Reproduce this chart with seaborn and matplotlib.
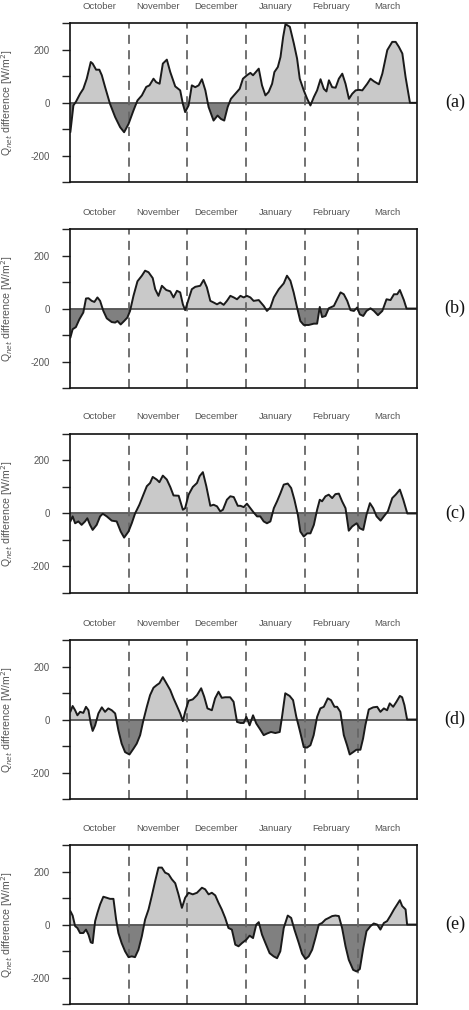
import matplotlib
matplotlib.use("Agg")
import matplotlib.pyplot as plt
import numpy as np
import seaborn as sns
from matplotlib.ticker import FixedLocator

# days since 1 October, values in W/m2
a_day = [0, 1.6, 3.0, 5.1, 6.8, 8.6, 10.7, 11.7, 13.5, 15.2,
         16.5, 18.2, 20.8, 23.5, 26.1, 28.2, 30.5, 33.1, 35.2, 37.5,
         39.8, 41.5, 43.6, 45.0, 46.8, 48.5, 50.6, 52.4, 55.0, 57.6,
         59.0, 60.2, 62.0, 63.7, 65.5, 67.3, 69.0, 70.8, 72.5, 75.1,
         77.2, 79.0, 80.7, 82.5, 84.2, 86.5, 88.8, 90.5, 92.6, 94.4,
         95.8, 98.8, 100.5, 102.3, 104.0, 105.8, 107.0, 108.8, 110.2, 111.6,
         112.8, 115.1, 117.2, 118.9, 120.3, 122.4, 124.2, 125.9, 127.7, 129.4,
         131.2, 132.9, 134.3, 135.6, 137.3, 139.1, 140.8, 142.6, 144.3, 146.1,
         147.8, 149.6, 151.3, 153.1, 155.7, 157.4, 159.2, 161.8, 163.6, 166.2,
         168.8, 170.6, 172.3, 174.1, 175.8, 178.1, 182]
a_val = [-111, -10, 5, 34, 53, 91, 154, 148, 125, 125,
         104, 60, -4, -54, -92, -111, -80, -29, 9, 28,
         60, 66, 91, 78, 72, 148, 163, 116, 62, 47,
         -4, -35, -10, 66, 59, 66, 89, 47, -16, -67,
         -48, -61, -67, -16, 15, 34, 53, 91, 104, 113,
         104, 129, 66, 28, 41, 72, 116, 135, 173, 249,
         297, 287, 224, 167, 91, 47, 15, -10, 22, 47,
         89, 53, 43, 85, 59, 57, 91, 110, 72, 15,
         34, 47, 49, 47, 72, 91, 81, 70, 110, 199,
         230, 230, 211, 186, 97, 0, 0]

b_day = [0, 1.2, 2.9, 4.7, 6.8, 8.2, 9.5, 11.2, 12.6, 14.2,
         15.6, 17.3, 19.1, 21.7, 23.5, 24.7, 26.4, 28.2, 29.9, 31.3,
         33.1, 35.2, 37.5, 39.2, 41.0, 43.2, 44.5, 46.2, 48.0, 50.3,
         52.4, 54.1, 55.9, 57.6, 59.0, 60.2, 62.0, 63.7, 65.5, 68.1,
         69.9, 71.6, 73.4, 75.1, 76.9, 78.6, 80.4, 82.1, 83.9, 85.7,
         87.4, 89.2, 90.9, 92.6, 94.4, 96.1, 98.8, 101.4, 103.1, 104.9,
         106.7, 109.3, 111.9, 113.6, 115.4, 117.1, 118.9, 120.6, 122.4, 125.0,
         127.7, 129.4, 130.8, 132.0, 133.8, 135.5, 138.2, 139.9, 141.7, 143.4,
         145.2, 146.9, 148.7, 150.4, 151.8, 153.6, 155.3, 157.4, 159.2, 161.3,
         163.6, 165.8, 167.9, 169.7, 171.4, 172.8, 174.9, 176.3, 182]
b_val = [-110, -78, -70, -41, -15, 38, 39, 29, 25, 42,
         29, -9, -37, -51, -53, -47, -60, -47, -34, -9,
         48, 103, 124, 143, 137, 115, 73, 48, 86, 70,
         65, 42, 67, 61, 16, -6, 35, 73, 82, 86,
         108, 80, 29, 23, 16, 23, 14, 29, 48, 42,
         35, 48, 42, 48, 42, 29, 32, 10, -9, 4,
         42, 73, 95, 124, 105, 61, 4, -47, -62, -62,
         -57, -57, 6, -32, -28, 1, 10, 35, 61, 54,
         29, -6, -9, 4, -22, -28, -9, 1, -9, -25,
         -9, 35, 32, 54, 54, 70, 32, 0, 0]

c_day = [0, 1.2, 2.5, 4.2, 5.9, 7.7, 8.9, 10.3, 11.7, 13.8,
         15.6, 17.0, 19.1, 21.7, 24.3, 26.4, 28.2, 30.5, 32.2, 34.0,
         36.2, 38.3, 40.1, 41.8, 43.2, 45.3, 46.7, 48.5, 50.6, 52.4,
         54.1, 56.8, 59.0, 60.2, 62.0, 64.2, 66.4, 67.8, 69.5, 71.3,
         73.4, 75.1, 76.9, 78.6, 80.0, 82.1, 83.9, 85.7, 87.8, 89.2,
         90.9, 92.6, 94.4, 96.1, 97.9, 99.6, 101.4, 103.1, 104.9, 106.7,
         108.4, 110.2, 111.9, 114.0, 115.8, 117.5, 119.3, 120.6, 122.4, 124.2,
         125.9, 127.7, 129.4, 130.8, 132.0, 133.8, 135.5, 137.3, 139.0, 140.8,
         142.5, 144.3, 146.0, 147.8, 150.1, 151.8, 153.6, 155.3, 157.1, 158.8,
         160.6, 162.7, 164.4, 166.5, 168.8, 170.6, 172.8, 174.6, 176.7, 182]
c_val = [-30, -11, -37, -30, -43, -30, -18, -43, -62, -43,
         -11, -1, -11, -27, -30, -68, -91, -68, -37, 1,
         33, 71, 103, 115, 138, 128, 118, 143, 128, 100,
         68, 67, 14, 20, 71, 100, 115, 141, 156, 103,
         29, 33, 27, 8, 14, 52, 65, 62, 29, 29,
         24, 37, 20, 4, -11, -11, -30, -37, -30, 20,
         46, 77, 109, 113, 96, 52, -5, -68, -87, -75,
         -75, -43, 14, 52, 46, 65, 71, 58, 73, 75,
         46, 20, -65, -49, -37, -56, -62, -5, 39, 20,
         -11, -27, -11, 8, 58, 71, 90, 52, 0, 0]

d_day = [0, 1.2, 2.5, 3.7, 5.1, 6.8, 8.2, 9.5, 10.7, 11.7,
         13.0, 14.7, 16.5, 18.2, 19.9, 21.7, 23.5, 25.2, 26.9, 28.7,
         31.0, 33.1, 34.8, 36.6, 38.3, 40.1, 41.8, 43.6, 45.3, 46.7,
         48.5, 50.2, 52.4, 54.1, 55.9, 57.6, 59.0, 60.2, 62.0, 64.2,
         66.4, 68.6, 70.2, 71.9, 74.2, 75.9, 77.7, 79.4, 81.2, 83.8,
         85.6, 87.4, 89.2, 90.9, 92.3, 94.0, 95.8, 97.5, 99.6, 101.4,
         103.1, 105.2, 107.5, 109.8, 111.0, 112.7, 115.0, 116.8, 118.5, 120.3,
         122.4, 124.1, 125.9, 127.6, 129.4, 131.1, 132.9, 135.0, 136.7, 138.5,
         139.9, 141.6, 143.4, 145.1, 146.5, 148.3, 150.0, 152.1, 153.5, 154.7,
         156.5, 158.8, 160.9, 162.6, 164.4, 166.1, 167.5, 169.3, 171.0, 172.8,
         174.0, 175.2, 176.6, 182]
d_val = [29, 51, 35, 16, 29, 25, 48, 35, -15, -43,
         -22, 23, 46, 29, 42, 35, 23, -41, -91, -123,
         -132, -110, -91, -59, -3, 48, 92, 120, 130, 137,
         160, 139, 111, 80, 51, 23, -6, 29, 71, 76,
         92, 118, 86, 42, 35, 80, 105, 82, 84, 84,
         67, -9, -13, -13, 10, -22, 16, -15, -38, -59,
         -53, -47, -51, -47, 10, 99, 89, 73, 10, -41,
         -104, -106, -97, -59, 10, 42, 48, 80, 73, 48,
         48, 29, -59, -97, -132, -123, -114, -114, -72, -22,
         38, 46, 48, 29, 42, 35, 61, 48, 67, 89,
         84, 54, 0, 0]

e_day = [0, 1.2, 2.5, 3.7, 5.1, 6.8, 8.2, 9.5, 10.7, 11.7,
         13.0, 14.2, 15.6, 17.3, 19.1, 20.8, 22.6, 24.0, 25.2, 26.9,
         28.7, 30.5, 32.2, 33.9, 35.7, 37.5, 39.2, 41.0, 42.7, 44.5,
         46.2, 48.0, 49.7, 51.5, 53.2, 55.0, 56.7, 58.5, 60.2, 62.0,
         64.2, 66.4, 69.0, 70.7, 72.5, 74.2, 76.0, 77.7, 79.4, 81.2,
         82.9, 84.7, 86.5, 88.2, 90.0, 92.3, 94.0, 95.8, 97.5, 98.8,
         100.5, 102.3, 104.5, 106.6, 108.4, 110.1, 111.9, 114.0, 115.8, 117.5,
         119.8, 121.5, 123.3, 125.0, 126.8, 128.5, 130.3, 132.0, 133.8, 135.5,
         137.3, 139.0, 140.8, 142.5, 144.3, 146.0, 148.3, 150.1, 151.8, 153.6,
         155.3, 157.4, 159.1, 160.9, 162.6, 164.4, 166.1, 167.9, 169.7, 171.4,
         172.8, 174.0, 175.8, 176.6, 182]
e_val = [51, 34, -6, -13, -32, -32, -19, -38, -67, -70,
         13, 44, 76, 105, 101, 97, 97, 19, -32, -70,
         -101, -123, -120, -123, -95, -44, 19, 57, 108, 165,
         215, 215, 196, 190, 171, 156, 114, 63, 101, 120,
         114, 120, 139, 133, 114, 120, 110, 82, 57, 25,
         -13, -19, -76, -82, -70, -57, -42, -51, 0, 9,
         -38, -70, -108, -120, -127, -101, -13, 34, 25, -19,
         -70, -110, -130, -120, -95, -51, 0, 6, 19, 25,
         32, 34, 32, -13, -82, -133, -171, -177, -168, -89,
         -25, -6, 4, 0, -19, 6, 13, 34, 57, 76,
         92, 70, 57, 0, 0]

months = ["October", "November", "December", "January", "February", "March"]
month_mid = [15.5, 46, 76.5, 107.5, 137, 166.5]
month_start = [31, 61, 92, 123, 151]
panel_tags = ["(a)", "(b)", "(c)", "(d)", "(e)"]

series = [(a_day, a_val), (b_day, b_val), (c_day, c_val), (d_day, d_val), (e_day, e_val)]

sns.set_style("white")
plt.rcParams['font.family'] = ['Liberation Sans', 'DejaVu Sans']

fig = plt.figure(figsize=(4.69, 10.10), dpi=100)
bottoms = [0.8195, 0.6158, 0.4129, 0.2089, 0.0059]

for (days, vals), tag, bot in zip(series, panel_tags, bottoms):
    ax = fig.add_axes([0.15, bot, 0.74, 0.1574])
    x = np.array(days)
    y = np.array(vals)
    assert len(x) == len(y)
    ax.fill_between(x, y, 0, where=y >= 0, interpolate=True, color="#c9c9c9", linewidth=0)
    ax.fill_between(x, y, 0, where=y <= 0, interpolate=True, color="#808080", linewidth=0)
    ax.axhline(0, color="#555555", linewidth=1.3, zorder=2)
    for m in month_start:
        ax.axvline(m, color="#666666", linewidth=1.3, linestyle=(0, (5, 3.5)), zorder=2)
    sns.lineplot(x=x, y=y, ax=ax, color="#1a1a1a", linewidth=1.4, estimator=None, sort=False, zorder=3)

    ax.set_xlim(0, 182)
    ax.set_ylim(-300, 300)
    ax.yaxis.set_major_locator(FixedLocator([-200, 0, 200]))
    ax.yaxis.set_minor_locator(FixedLocator([-300, -100, 100, 300]))
    ax.set_yticklabels(["-200", "0", "200"])
    ax.tick_params(axis="y", which="both", direction="out", left=True, length=6,
                   width=1, color="#222222", labelcolor="#555555", labelsize=7, pad=9)

    ax.xaxis.tick_top()
    ax.set_xticks(month_mid)
    ax.set_xticklabels(months)
    ax.tick_params(axis="x", which="both", length=0, labelsize=6.8, labelcolor="#555555",
                   pad=9, bottom=False, labelbottom=False)
    ax.set_xlabel("")

    for s in ax.spines.values():
        s.set_visible(True)
        s.set_color("#111111")
        s.set_linewidth(1.2)

    ax.set_ylabel(r"Q$_{net}$ difference [W/m$^2$]", fontsize=7.6, color="#555555")
    ax.yaxis.set_label_coords(-0.16, 0.5)

    ax.text(1.109, 0.5, tag, transform=ax.transAxes, ha="center", va="center",
            fontsize=13, family="Liberation Serif", color="#111111")

fig.savefig("out.png", dpi=100)
